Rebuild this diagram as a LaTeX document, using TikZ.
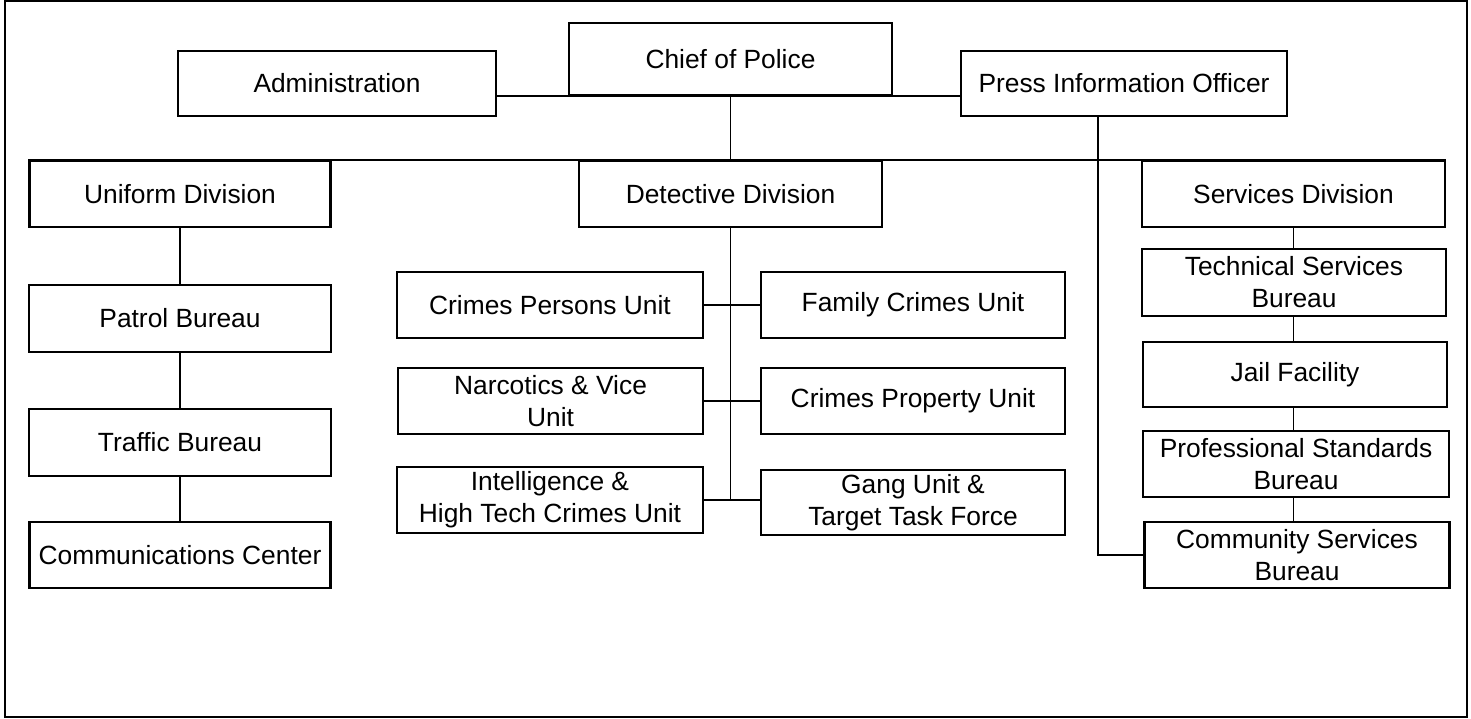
\documentclass[tikz,border=0pt]{standalone}
\usepackage{fontspec}
\setmainfont{Liberation Sans}
\usetikzlibrary{positioning,calc}
\tikzset{
  orgnode/.style={
    draw, line width=1.2pt, minimum height=1.32cm, minimum width=6.06cm,
    inner sep=1pt, align=center, font=\fontsize{15}{18.2}\selectfont
  },
  orgbox/.style={orgnode},
  unitbox/.style={orgnode, minimum width=6.1cm},
  orgline/.style={line width=1pt, black},
  framebox/.style={draw, line width=1.3pt}
}
\begin{document}
\begin{tikzpicture}[x=0.02cm, y=-0.02cm]
  \useasboundingbox (0,0) rectangle (1471,719);
  \draw[framebox] (5,1) rectangle (1467,717);

  \node[orgbox, minimum width=6.46cm, minimum height=1.44cm] (chief) at (730.5,59) {Chief of Police};
  \node[orgbox, minimum width=6.36cm, minimum height=1.3cm] (admin) at (337,83.5) {Administration};
  \node[orgbox, minimum width=6.52cm, minimum height=1.3cm] (press) at (1124,83.5) {Press Information Officer};

  \node[orgbox, minimum width=6.02cm] (uniform) at (180,194) {Uniform Division};
  \node[orgbox] (detective) at (730.5,194) {Detective Division};
  \node[orgbox] (services) at (1293.5,194) {Services Division};

  \node[orgbox, minimum width=6.04cm, minimum height=1.34cm] (patrol) at (180,318.5) {Patrol Bureau};
  \node[orgbox, minimum width=6.04cm, minimum height=1.34cm] (traffic) at (180,442.5) {Traffic Bureau};
  \node[orgbox, minimum width=6.02cm] (comms) at (180,555) {Communications Center};

  \node[unitbox, minimum width=6.12cm] (persons) at (550,305) {Crimes Persons Unit};
  \node[unitbox, minimum width=6.08cm] (family) at (913,305) {Family Crimes Unit};
  \node[unitbox] (narcotics) at (550.5,401) {Narcotics \& Vice\\Unit};
  \node[unitbox, minimum width=6.08cm] (property) at (913,401) {Crimes Property Unit};
  \node[unitbox, minimum width=6.12cm] (intel) at (550,500) {Intelligence \&\\High Tech Crimes Unit};
  \node[unitbox, minimum width=6.08cm, minimum height=1.3cm] (gang) at (913,502.5) {Gang Unit \&\\Target Task Force};

  \node[unitbox, minimum width=6.08cm, minimum height=1.34cm] (tech) at (1294,282.5) {Technical Services\\Bureau};
  \node[unitbox, minimum width=6.08cm, minimum height=1.3cm] (jail) at (1295,374.5) {Jail Facility};
  \node[unitbox, minimum width=6.12cm] (prof) at (1296,464) {Professional Standards\\Bureau};
  \node[unitbox] (community) at (1297,555) {Community Services\\Bureau};

  \draw[orgline] (admin.east |- chief.south) -- (press.west |- chief.south);
  \draw[orgline] (chief.south) -- (chief.south |- detective.north);
  \draw[orgline] (uniform.north west) -- (services.north east);
  \draw[orgline] ([xshift=-0.52cm]press.south) |- (community.west);

  \draw[orgline] (uniform) -- (patrol);
  \draw[orgline] (patrol) -- (traffic);
  \draw[orgline] (traffic) -- (comms);

  \draw[orgline] (detective.south) -- (detective.south |- intel.east);
  \draw[orgline] (persons) -- (family);
  \draw[orgline] (narcotics) -- (property);
  \draw[orgline] (intel.east) -- (intel.east -| gang.west);

  \draw[orgline] (services.south) -- (services.south |- tech.north);
  \draw[orgline] (services.south |- tech.south) -- (services.south |- jail.north);
  \draw[orgline] (services.south |- jail.south) -- (services.south |- prof.north);
  \draw[orgline] (services.south |- prof.south) -- (services.south |- community.north);
\end{tikzpicture}
\end{document}
